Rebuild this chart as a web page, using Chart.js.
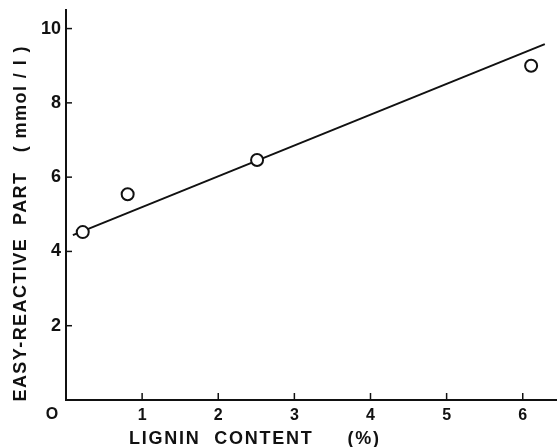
<!DOCTYPE html>
<html>
<head>
<meta charset="utf-8">
<script src="https://cdn.jsdelivr.net/npm/chart.js@4.4.0/dist/chart.umd.min.js"></script>
<style>
  body { margin: 0; background: #fff; }
</style>
</head>
<body>
<canvas id="myChart" width="557" height="447"></canvas>
<script>
// measured points
var ligninContent = [0.22, 0.81, 2.51, 6.11];
var easyReactive = [4.52, 5.54, 6.46, 9.0];
// fitted line end points
var fitLignin = [0.09, 6.29];
var fitReactive = [4.44, 9.58];
// axis ticks
var xTicks = [1, 2, 3, 4, 5, 6];
var yTicks = [2, 4, 6, 8, 10];

var xTitle = 'LIGNIN  CONTENT     (%)';
var yTitle = 'EASY-REACTIVE  PART   ( mmol / l )';

function spacedText(ctx, text, cx, cy, width) {
  ctx.letterSpacing = '0px';
  var w = ctx.measureText(text).width;
  var sp = (width - w) / (text.length - 1);
  ctx.letterSpacing = sp + 'px';
  ctx.textAlign = 'left';
  ctx.textBaseline = 'middle';
  ctx.fillText(text, cx - width / 2, cy);
}

var extras = {
  id: 'extras',
  afterDraw: function (chart) {
    var ctx = chart.ctx;
    var xs = chart.scales.x, ys = chart.scales.y;
    ctx.save();
    ctx.strokeStyle = '#111';
    ctx.lineWidth = 1.5;
    // inside tick marks
    xTicks.forEach(function (v) {
      var px = xs.getPixelForValue(v);
      ctx.beginPath();
      ctx.moveTo(px, ys.bottom);
      ctx.lineTo(px, ys.bottom - 7);
      ctx.stroke();
    });
    yTicks.forEach(function (v) {
      var py = ys.getPixelForValue(v);
      ctx.beginPath();
      ctx.moveTo(xs.left, py);
      ctx.lineTo(xs.left + 6, py);
      ctx.stroke();
    });
    ctx.fillStyle = '#111';
    // origin label
    ctx.font = 'bold 16px "Liberation Sans"';
    ctx.textAlign = 'center';
    ctx.textBaseline = 'middle';
    ctx.fillText('O', xs.left - 14, ys.bottom + 15);
    // x title
    ctx.font = 'bold 18px "Liberation Sans"';
    spacedText(ctx, xTitle, 254, 439, 250);
    // y title
    ctx.translate(21, 224);
    ctx.rotate(-Math.PI / 2);
    ctx.font = 'bold 18px "Liberation Sans"';
    spacedText(ctx, yTitle, 0, 0, 355);
    ctx.restore();
  }
};

var ctx = document.getElementById('myChart').getContext('2d');
var myChart = new Chart(ctx, {
  type: 'scatter',
  data: {
    datasets: [{
      label: 'measured',
      data: ligninContent.map(function (x, i) { return { x: x, y: easyReactive[i] }; }),
      pointStyle: 'circle',
      pointRadius: 6,
      pointBorderWidth: 2,
      pointBackgroundColor: '#fff',
      pointBorderColor: '#111'
    }, {
      label: 'fit',
      data: fitLignin.map(function (x, i) { return { x: x, y: fitReactive[i] }; }),
      showLine: true,
      pointRadius: 0,
      borderColor: '#111',
      borderWidth: 2
    }]
  },
  options: {
    responsive: false,
    animation: false,
    layout: { autoPadding: false, padding: { top: 10, right: 0, left: 0, bottom: 0 } },
    plugins: {
      legend: { display: false },
      tooltip: { enabled: false }
    },
    scales: {
      x: {
        type: 'linear',
        min: 0,
        max: 6.45,
        afterBuildTicks: function (s) { s.ticks = xTicks.map(function (v) { return { value: v }; }); },
        afterFit: function (s) { s.height = 47; s.paddingRight = 0; s.paddingLeft = 0; },
        grid: { display: false, drawTicks: false },
        border: { display: true, color: '#111', width: 2 },
        ticks: { color: '#111', padding: 6, font: { family: 'Liberation Sans', size: 16, weight: 'bold' } }
      },
      y: {
        type: 'linear',
        min: 0,
        max: 10.5,
        afterBuildTicks: function (s) { s.ticks = yTicks.map(function (v) { return { value: v }; }); },
        afterFit: function (s) { s.width = 66; s.paddingTop = 0; s.paddingBottom = 0; },
        grid: { display: false, drawTicks: false },
        border: { display: true, color: '#111', width: 2 },
        ticks: { color: '#111', padding: 5, font: { family: 'Liberation Sans', size: 18, weight: 'bold' } }
      }
    }
  },
  plugins: [extras]
});
</script>
</body>
</html>
